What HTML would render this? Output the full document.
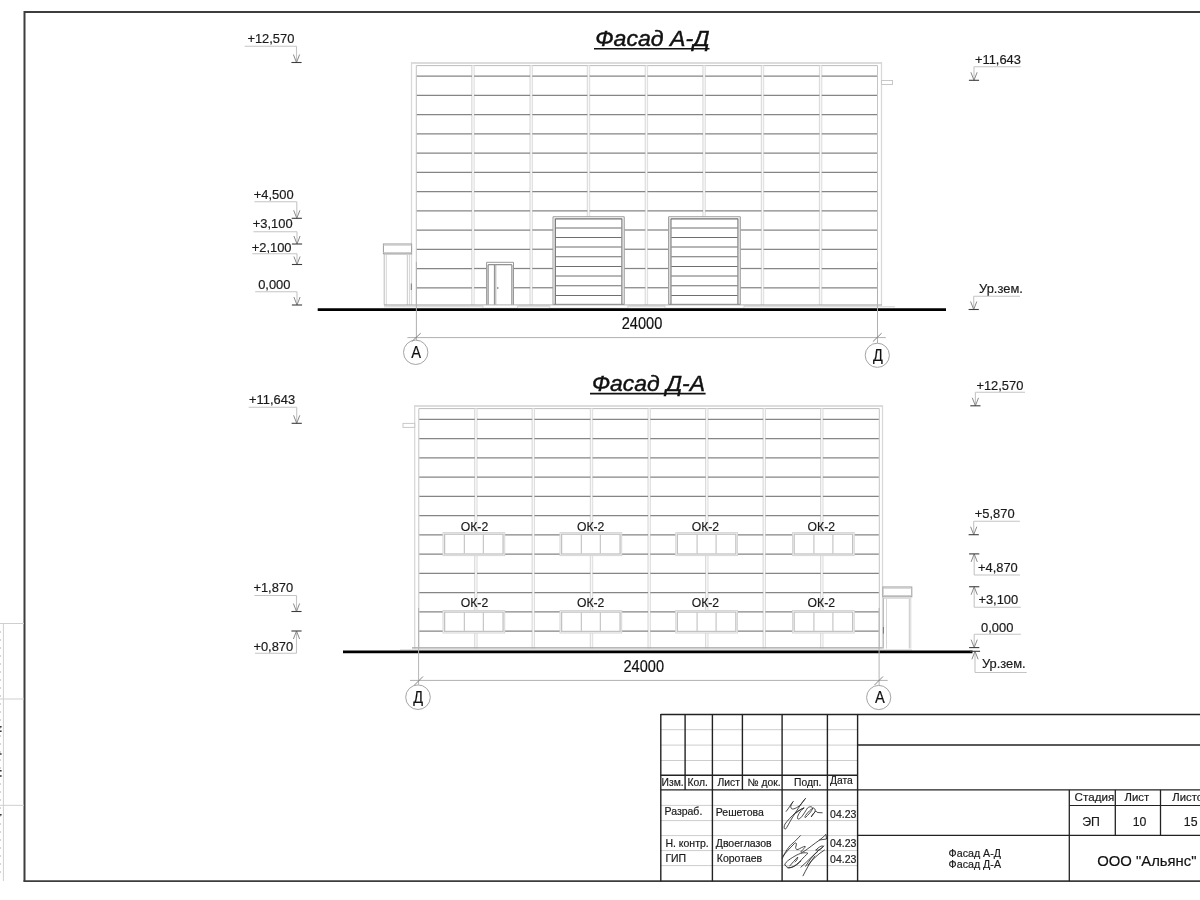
<!DOCTYPE html><html><head><meta charset="utf-8"><style>html,body{margin:0;padding:0;background:#fff;width:1200px;height:900px;overflow:hidden}svg{display:block;font-family:"Liberation Sans",sans-serif;will-change:transform}</style></head><body>
<svg width="1200" height="900" viewBox="0 0 1200 900">
<rect x="0" y="0" width="1200" height="900" fill="#fff"/>
<line x1="24.5" y1="12" x2="1200" y2="12" stroke="#3d3d3d" stroke-width="2"/>
<line x1="24.5" y1="11" x2="24.5" y2="881.5" stroke="#3d3d3d" stroke-width="2"/>
<line x1="23.5" y1="881.2" x2="1200" y2="881.2" stroke="#3d3d3d" stroke-width="1.8"/>
<line x1="0" y1="623.5" x2="24" y2="623.5" stroke="#cfcfcf" stroke-width="1"/>
<line x1="0" y1="699" x2="24" y2="699" stroke="#cfcfcf" stroke-width="1"/>
<line x1="0" y1="805.3" x2="24" y2="805.3" stroke="#cfcfcf" stroke-width="1"/>
<line x1="3.4" y1="623.5" x2="3.4" y2="881" stroke="#cfcfcf" stroke-width="1"/>
<line x1="0" y1="632" x2="1" y2="632" stroke="#aaa" stroke-width="1"/>
<line x1="0" y1="640" x2="1" y2="640" stroke="#aaa" stroke-width="1"/>
<line x1="0" y1="648" x2="1" y2="648" stroke="#aaa" stroke-width="1"/>
<line x1="0" y1="656" x2="1" y2="656" stroke="#aaa" stroke-width="1"/>
<line x1="0" y1="664" x2="1" y2="664" stroke="#aaa" stroke-width="1"/>
<line x1="0" y1="672" x2="1" y2="672" stroke="#aaa" stroke-width="1"/>
<line x1="0" y1="680" x2="1" y2="680" stroke="#aaa" stroke-width="1"/>
<line x1="0" y1="688" x2="1" y2="688" stroke="#aaa" stroke-width="1"/>
<line x1="0" y1="696" x2="1" y2="696" stroke="#aaa" stroke-width="1"/>
<line x1="0" y1="704" x2="1" y2="704" stroke="#aaa" stroke-width="1"/>
<line x1="0" y1="712" x2="1" y2="712" stroke="#aaa" stroke-width="1"/>
<line x1="0" y1="720" x2="1" y2="720" stroke="#aaa" stroke-width="1"/>
<line x1="0" y1="728" x2="1" y2="728" stroke="#aaa" stroke-width="1"/>
<line x1="0" y1="736" x2="1" y2="736" stroke="#aaa" stroke-width="1"/>
<line x1="0" y1="744" x2="1" y2="744" stroke="#aaa" stroke-width="1"/>
<line x1="0" y1="752" x2="1" y2="752" stroke="#aaa" stroke-width="1"/>
<line x1="0" y1="760" x2="1" y2="760" stroke="#aaa" stroke-width="1"/>
<line x1="0" y1="768" x2="1" y2="768" stroke="#aaa" stroke-width="1"/>
<line x1="0" y1="776" x2="1" y2="776" stroke="#aaa" stroke-width="1"/>
<line x1="0" y1="784" x2="1" y2="784" stroke="#aaa" stroke-width="1"/>
<line x1="0" y1="792" x2="1" y2="792" stroke="#aaa" stroke-width="1"/>
<line x1="0" y1="800" x2="1" y2="800" stroke="#aaa" stroke-width="1"/>
<line x1="0" y1="808" x2="1" y2="808" stroke="#aaa" stroke-width="1"/>
<line x1="0" y1="816" x2="1" y2="816" stroke="#aaa" stroke-width="1"/>
<line x1="0" y1="824" x2="1" y2="824" stroke="#aaa" stroke-width="1"/>
<line x1="0" y1="832" x2="1" y2="832" stroke="#aaa" stroke-width="1"/>
<line x1="0" y1="840" x2="1" y2="840" stroke="#aaa" stroke-width="1"/>
<line x1="0" y1="848" x2="1" y2="848" stroke="#aaa" stroke-width="1"/>
<line x1="0" y1="856" x2="1" y2="856" stroke="#aaa" stroke-width="1"/>
<line x1="0" y1="864" x2="1" y2="864" stroke="#aaa" stroke-width="1"/>
<line x1="0" y1="872" x2="1" y2="872" stroke="#aaa" stroke-width="1"/>
<line x1="0" y1="726.7" x2="1.6" y2="726.7" stroke="#333" stroke-width="1.6"/>
<line x1="0" y1="731.3" x2="1.6" y2="731.3" stroke="#333" stroke-width="1.6"/>
<line x1="0" y1="754" x2="1.6" y2="754" stroke="#333" stroke-width="1.6"/>
<line x1="0" y1="770.7" x2="1.6" y2="770.7" stroke="#333" stroke-width="1.6"/>
<line x1="0" y1="776" x2="1.6" y2="776" stroke="#333" stroke-width="1.6"/>
<line x1="0" y1="814.7" x2="1.6" y2="814.7" stroke="#333" stroke-width="1.6"/>
<text x="595.2" y="45.7" font-size="22" text-anchor="start" fill="#111" font-style="italic" stroke="#111" stroke-width="0.45" textLength="114.3" lengthAdjust="spacingAndGlyphs">Фасад А-Д</text>
<line x1="594" y1="48.8" x2="709.5" y2="48.8" stroke="#111" stroke-width="1.6"/>
<line x1="411.5" y1="63" x2="881.5" y2="63" stroke="#dcdcdc" stroke-width="2"/>
<line x1="416.3" y1="65.6" x2="877.5" y2="65.6" stroke="#bdbdbd" stroke-width="1"/>
<line x1="411.5" y1="62" x2="411.5" y2="305" stroke="#d9d9d9" stroke-width="1.3"/>
<line x1="881.5" y1="62" x2="881.5" y2="305" stroke="#d9d9d9" stroke-width="1.3"/>
<line x1="416.3" y1="65.6" x2="416.3" y2="305" stroke="#c4c4c4" stroke-width="1"/>
<line x1="877.5" y1="65.6" x2="877.5" y2="305" stroke="#c4c4c4" stroke-width="1"/>
<rect x="471.8" y="65.6" width="2.4" height="239.4" fill="#f8f8f8"/>
<line x1="471.8" y1="65.6" x2="471.8" y2="305" stroke="#d2d2d2" stroke-width="0.9"/>
<line x1="474.2" y1="65.6" x2="474.2" y2="305" stroke="#dadada" stroke-width="0.9"/>
<rect x="530" y="65.6" width="2.4" height="239.4" fill="#f8f8f8"/>
<line x1="530" y1="65.6" x2="530" y2="305" stroke="#d2d2d2" stroke-width="0.9"/>
<line x1="532.4" y1="65.6" x2="532.4" y2="305" stroke="#dadada" stroke-width="0.9"/>
<rect x="587.3" y="65.6" width="2.4" height="239.4" fill="#f8f8f8"/>
<line x1="587.3" y1="65.6" x2="587.3" y2="305" stroke="#d2d2d2" stroke-width="0.9"/>
<line x1="589.7" y1="65.6" x2="589.7" y2="305" stroke="#dadada" stroke-width="0.9"/>
<rect x="645.2" y="65.6" width="2.4" height="239.4" fill="#f8f8f8"/>
<line x1="645.2" y1="65.6" x2="645.2" y2="305" stroke="#d2d2d2" stroke-width="0.9"/>
<line x1="647.6" y1="65.6" x2="647.6" y2="305" stroke="#dadada" stroke-width="0.9"/>
<rect x="702.9" y="65.6" width="2.4" height="239.4" fill="#f8f8f8"/>
<line x1="702.9" y1="65.6" x2="702.9" y2="305" stroke="#d2d2d2" stroke-width="0.9"/>
<line x1="705.3" y1="65.6" x2="705.3" y2="305" stroke="#dadada" stroke-width="0.9"/>
<rect x="761.3" y="65.6" width="2.4" height="239.4" fill="#f8f8f8"/>
<line x1="761.3" y1="65.6" x2="761.3" y2="305" stroke="#d2d2d2" stroke-width="0.9"/>
<line x1="763.7" y1="65.6" x2="763.7" y2="305" stroke="#dadada" stroke-width="0.9"/>
<rect x="819.4" y="65.6" width="2.4" height="239.4" fill="#f8f8f8"/>
<line x1="819.4" y1="65.6" x2="819.4" y2="305" stroke="#d2d2d2" stroke-width="0.9"/>
<line x1="821.8" y1="65.6" x2="821.8" y2="305" stroke="#dadada" stroke-width="0.9"/>
<line x1="416.8" y1="76" x2="471.9" y2="76" stroke="#858585" stroke-width="1.25"/>
<line x1="474.1" y1="76" x2="530.1" y2="76" stroke="#858585" stroke-width="1.25"/>
<line x1="532.3" y1="76" x2="587.4" y2="76" stroke="#858585" stroke-width="1.25"/>
<line x1="589.6" y1="76" x2="645.3" y2="76" stroke="#858585" stroke-width="1.25"/>
<line x1="647.5" y1="76" x2="703" y2="76" stroke="#858585" stroke-width="1.25"/>
<line x1="705.2" y1="76" x2="761.4" y2="76" stroke="#858585" stroke-width="1.25"/>
<line x1="763.6" y1="76" x2="819.5" y2="76" stroke="#858585" stroke-width="1.25"/>
<line x1="821.7" y1="76" x2="877" y2="76" stroke="#858585" stroke-width="1.25"/>
<line x1="416.8" y1="95.25" x2="471.9" y2="95.25" stroke="#858585" stroke-width="1.25"/>
<line x1="474.1" y1="95.25" x2="530.1" y2="95.25" stroke="#858585" stroke-width="1.25"/>
<line x1="532.3" y1="95.25" x2="587.4" y2="95.25" stroke="#858585" stroke-width="1.25"/>
<line x1="589.6" y1="95.25" x2="645.3" y2="95.25" stroke="#858585" stroke-width="1.25"/>
<line x1="647.5" y1="95.25" x2="703" y2="95.25" stroke="#858585" stroke-width="1.25"/>
<line x1="705.2" y1="95.25" x2="761.4" y2="95.25" stroke="#858585" stroke-width="1.25"/>
<line x1="763.6" y1="95.25" x2="819.5" y2="95.25" stroke="#858585" stroke-width="1.25"/>
<line x1="821.7" y1="95.25" x2="877" y2="95.25" stroke="#858585" stroke-width="1.25"/>
<line x1="416.8" y1="114.5" x2="471.9" y2="114.5" stroke="#858585" stroke-width="1.25"/>
<line x1="474.1" y1="114.5" x2="530.1" y2="114.5" stroke="#858585" stroke-width="1.25"/>
<line x1="532.3" y1="114.5" x2="587.4" y2="114.5" stroke="#858585" stroke-width="1.25"/>
<line x1="589.6" y1="114.5" x2="645.3" y2="114.5" stroke="#858585" stroke-width="1.25"/>
<line x1="647.5" y1="114.5" x2="703" y2="114.5" stroke="#858585" stroke-width="1.25"/>
<line x1="705.2" y1="114.5" x2="761.4" y2="114.5" stroke="#858585" stroke-width="1.25"/>
<line x1="763.6" y1="114.5" x2="819.5" y2="114.5" stroke="#858585" stroke-width="1.25"/>
<line x1="821.7" y1="114.5" x2="877" y2="114.5" stroke="#858585" stroke-width="1.25"/>
<line x1="416.8" y1="133.75" x2="471.9" y2="133.75" stroke="#858585" stroke-width="1.25"/>
<line x1="474.1" y1="133.75" x2="530.1" y2="133.75" stroke="#858585" stroke-width="1.25"/>
<line x1="532.3" y1="133.75" x2="587.4" y2="133.75" stroke="#858585" stroke-width="1.25"/>
<line x1="589.6" y1="133.75" x2="645.3" y2="133.75" stroke="#858585" stroke-width="1.25"/>
<line x1="647.5" y1="133.75" x2="703" y2="133.75" stroke="#858585" stroke-width="1.25"/>
<line x1="705.2" y1="133.75" x2="761.4" y2="133.75" stroke="#858585" stroke-width="1.25"/>
<line x1="763.6" y1="133.75" x2="819.5" y2="133.75" stroke="#858585" stroke-width="1.25"/>
<line x1="821.7" y1="133.75" x2="877" y2="133.75" stroke="#858585" stroke-width="1.25"/>
<line x1="416.8" y1="153" x2="471.9" y2="153" stroke="#858585" stroke-width="1.25"/>
<line x1="474.1" y1="153" x2="530.1" y2="153" stroke="#858585" stroke-width="1.25"/>
<line x1="532.3" y1="153" x2="587.4" y2="153" stroke="#858585" stroke-width="1.25"/>
<line x1="589.6" y1="153" x2="645.3" y2="153" stroke="#858585" stroke-width="1.25"/>
<line x1="647.5" y1="153" x2="703" y2="153" stroke="#858585" stroke-width="1.25"/>
<line x1="705.2" y1="153" x2="761.4" y2="153" stroke="#858585" stroke-width="1.25"/>
<line x1="763.6" y1="153" x2="819.5" y2="153" stroke="#858585" stroke-width="1.25"/>
<line x1="821.7" y1="153" x2="877" y2="153" stroke="#858585" stroke-width="1.25"/>
<line x1="416.8" y1="172.25" x2="471.9" y2="172.25" stroke="#858585" stroke-width="1.25"/>
<line x1="474.1" y1="172.25" x2="530.1" y2="172.25" stroke="#858585" stroke-width="1.25"/>
<line x1="532.3" y1="172.25" x2="587.4" y2="172.25" stroke="#858585" stroke-width="1.25"/>
<line x1="589.6" y1="172.25" x2="645.3" y2="172.25" stroke="#858585" stroke-width="1.25"/>
<line x1="647.5" y1="172.25" x2="703" y2="172.25" stroke="#858585" stroke-width="1.25"/>
<line x1="705.2" y1="172.25" x2="761.4" y2="172.25" stroke="#858585" stroke-width="1.25"/>
<line x1="763.6" y1="172.25" x2="819.5" y2="172.25" stroke="#858585" stroke-width="1.25"/>
<line x1="821.7" y1="172.25" x2="877" y2="172.25" stroke="#858585" stroke-width="1.25"/>
<line x1="416.8" y1="191.5" x2="471.9" y2="191.5" stroke="#858585" stroke-width="1.25"/>
<line x1="474.1" y1="191.5" x2="530.1" y2="191.5" stroke="#858585" stroke-width="1.25"/>
<line x1="532.3" y1="191.5" x2="587.4" y2="191.5" stroke="#858585" stroke-width="1.25"/>
<line x1="589.6" y1="191.5" x2="645.3" y2="191.5" stroke="#858585" stroke-width="1.25"/>
<line x1="647.5" y1="191.5" x2="703" y2="191.5" stroke="#858585" stroke-width="1.25"/>
<line x1="705.2" y1="191.5" x2="761.4" y2="191.5" stroke="#858585" stroke-width="1.25"/>
<line x1="763.6" y1="191.5" x2="819.5" y2="191.5" stroke="#858585" stroke-width="1.25"/>
<line x1="821.7" y1="191.5" x2="877" y2="191.5" stroke="#858585" stroke-width="1.25"/>
<line x1="416.8" y1="210.75" x2="471.9" y2="210.75" stroke="#858585" stroke-width="1.25"/>
<line x1="474.1" y1="210.75" x2="530.1" y2="210.75" stroke="#858585" stroke-width="1.25"/>
<line x1="532.3" y1="210.75" x2="587.4" y2="210.75" stroke="#858585" stroke-width="1.25"/>
<line x1="589.6" y1="210.75" x2="645.3" y2="210.75" stroke="#858585" stroke-width="1.25"/>
<line x1="647.5" y1="210.75" x2="703" y2="210.75" stroke="#858585" stroke-width="1.25"/>
<line x1="705.2" y1="210.75" x2="761.4" y2="210.75" stroke="#858585" stroke-width="1.25"/>
<line x1="763.6" y1="210.75" x2="819.5" y2="210.75" stroke="#858585" stroke-width="1.25"/>
<line x1="821.7" y1="210.75" x2="877" y2="210.75" stroke="#858585" stroke-width="1.25"/>
<line x1="416.8" y1="230" x2="471.9" y2="230" stroke="#858585" stroke-width="1.25"/>
<line x1="474.1" y1="230" x2="530.1" y2="230" stroke="#858585" stroke-width="1.25"/>
<line x1="532.3" y1="230" x2="553" y2="230" stroke="#858585" stroke-width="1.25"/>
<line x1="624.25" y1="230" x2="645.3" y2="230" stroke="#858585" stroke-width="1.25"/>
<line x1="647.5" y1="230" x2="668.6" y2="230" stroke="#858585" stroke-width="1.25"/>
<line x1="740.3" y1="230" x2="761.4" y2="230" stroke="#858585" stroke-width="1.25"/>
<line x1="763.6" y1="230" x2="819.5" y2="230" stroke="#858585" stroke-width="1.25"/>
<line x1="821.7" y1="230" x2="877" y2="230" stroke="#858585" stroke-width="1.25"/>
<line x1="416.8" y1="249.25" x2="471.9" y2="249.25" stroke="#858585" stroke-width="1.25"/>
<line x1="474.1" y1="249.25" x2="530.1" y2="249.25" stroke="#858585" stroke-width="1.25"/>
<line x1="532.3" y1="249.25" x2="553" y2="249.25" stroke="#858585" stroke-width="1.25"/>
<line x1="624.25" y1="249.25" x2="645.3" y2="249.25" stroke="#858585" stroke-width="1.25"/>
<line x1="647.5" y1="249.25" x2="668.6" y2="249.25" stroke="#858585" stroke-width="1.25"/>
<line x1="740.3" y1="249.25" x2="761.4" y2="249.25" stroke="#858585" stroke-width="1.25"/>
<line x1="763.6" y1="249.25" x2="819.5" y2="249.25" stroke="#858585" stroke-width="1.25"/>
<line x1="821.7" y1="249.25" x2="877" y2="249.25" stroke="#858585" stroke-width="1.25"/>
<line x1="416.8" y1="268.5" x2="471.9" y2="268.5" stroke="#858585" stroke-width="1.25"/>
<line x1="474.1" y1="268.5" x2="486.6" y2="268.5" stroke="#858585" stroke-width="1.25"/>
<line x1="513.5" y1="268.5" x2="530.1" y2="268.5" stroke="#858585" stroke-width="1.25"/>
<line x1="532.3" y1="268.5" x2="553" y2="268.5" stroke="#858585" stroke-width="1.25"/>
<line x1="624.25" y1="268.5" x2="645.3" y2="268.5" stroke="#858585" stroke-width="1.25"/>
<line x1="647.5" y1="268.5" x2="668.6" y2="268.5" stroke="#858585" stroke-width="1.25"/>
<line x1="740.3" y1="268.5" x2="761.4" y2="268.5" stroke="#858585" stroke-width="1.25"/>
<line x1="763.6" y1="268.5" x2="819.5" y2="268.5" stroke="#858585" stroke-width="1.25"/>
<line x1="821.7" y1="268.5" x2="877" y2="268.5" stroke="#858585" stroke-width="1.25"/>
<line x1="416.8" y1="287.75" x2="471.9" y2="287.75" stroke="#858585" stroke-width="1.25"/>
<line x1="474.1" y1="287.75" x2="486.6" y2="287.75" stroke="#858585" stroke-width="1.25"/>
<line x1="513.5" y1="287.75" x2="530.1" y2="287.75" stroke="#858585" stroke-width="1.25"/>
<line x1="532.3" y1="287.75" x2="553" y2="287.75" stroke="#858585" stroke-width="1.25"/>
<line x1="624.25" y1="287.75" x2="645.3" y2="287.75" stroke="#858585" stroke-width="1.25"/>
<line x1="647.5" y1="287.75" x2="668.6" y2="287.75" stroke="#858585" stroke-width="1.25"/>
<line x1="740.3" y1="287.75" x2="761.4" y2="287.75" stroke="#858585" stroke-width="1.25"/>
<line x1="763.6" y1="287.75" x2="819.5" y2="287.75" stroke="#858585" stroke-width="1.25"/>
<line x1="821.7" y1="287.75" x2="877" y2="287.75" stroke="#858585" stroke-width="1.25"/>
<rect x="881.5" y="80.5" width="11" height="4" stroke="#c8c8c8" stroke-width="1" fill="#fff"/>
<rect x="553" y="216.75" width="71.25" height="88.5" fill="#fff"/>
<line x1="553" y1="216.75" x2="624.25" y2="216.75" stroke="#9a9a9a" stroke-width="1"/>
<line x1="553" y1="216.75" x2="553" y2="305" stroke="#9a9a9a" stroke-width="1"/>
<line x1="624.25" y1="216.75" x2="624.25" y2="305" stroke="#9a9a9a" stroke-width="1"/>
<line x1="555.3" y1="218.8" x2="621.95" y2="218.8" stroke="#707070" stroke-width="1.2"/>
<line x1="555.3" y1="218.8" x2="555.3" y2="305" stroke="#707070" stroke-width="1.2"/>
<line x1="621.95" y1="218.8" x2="621.95" y2="305" stroke="#707070" stroke-width="1.2"/>
<line x1="554.2" y1="218" x2="554.2" y2="305" stroke="#d0d0d0" stroke-width="1"/>
<line x1="623.05" y1="218" x2="623.05" y2="305" stroke="#d0d0d0" stroke-width="1"/>
<line x1="555.8" y1="228" x2="621.45" y2="228" stroke="#6e6e6e" stroke-width="1.1"/>
<line x1="555.8" y1="237.5" x2="621.45" y2="237.5" stroke="#6e6e6e" stroke-width="1.1"/>
<line x1="555.8" y1="247" x2="621.45" y2="247" stroke="#6e6e6e" stroke-width="1.1"/>
<line x1="555.8" y1="256.75" x2="621.45" y2="256.75" stroke="#6e6e6e" stroke-width="1.1"/>
<line x1="555.8" y1="266.5" x2="621.45" y2="266.5" stroke="#6e6e6e" stroke-width="1.1"/>
<line x1="555.8" y1="276" x2="621.45" y2="276" stroke="#6e6e6e" stroke-width="1.1"/>
<line x1="555.8" y1="285.75" x2="621.45" y2="285.75" stroke="#6e6e6e" stroke-width="1.1"/>
<line x1="555.8" y1="295.5" x2="621.45" y2="295.5" stroke="#6e6e6e" stroke-width="1.1"/>
<rect x="668.6" y="216.75" width="71.7" height="88.5" fill="#fff"/>
<line x1="668.6" y1="216.75" x2="740.3" y2="216.75" stroke="#9a9a9a" stroke-width="1"/>
<line x1="668.6" y1="216.75" x2="668.6" y2="305" stroke="#9a9a9a" stroke-width="1"/>
<line x1="740.3" y1="216.75" x2="740.3" y2="305" stroke="#9a9a9a" stroke-width="1"/>
<line x1="670.9" y1="218.8" x2="738" y2="218.8" stroke="#707070" stroke-width="1.2"/>
<line x1="670.9" y1="218.8" x2="670.9" y2="305" stroke="#707070" stroke-width="1.2"/>
<line x1="738" y1="218.8" x2="738" y2="305" stroke="#707070" stroke-width="1.2"/>
<line x1="669.8" y1="218" x2="669.8" y2="305" stroke="#d0d0d0" stroke-width="1"/>
<line x1="739.1" y1="218" x2="739.1" y2="305" stroke="#d0d0d0" stroke-width="1"/>
<line x1="671.4" y1="228" x2="737.5" y2="228" stroke="#6e6e6e" stroke-width="1.1"/>
<line x1="671.4" y1="237.5" x2="737.5" y2="237.5" stroke="#6e6e6e" stroke-width="1.1"/>
<line x1="671.4" y1="247" x2="737.5" y2="247" stroke="#6e6e6e" stroke-width="1.1"/>
<line x1="671.4" y1="256.75" x2="737.5" y2="256.75" stroke="#6e6e6e" stroke-width="1.1"/>
<line x1="671.4" y1="266.5" x2="737.5" y2="266.5" stroke="#6e6e6e" stroke-width="1.1"/>
<line x1="671.4" y1="276" x2="737.5" y2="276" stroke="#6e6e6e" stroke-width="1.1"/>
<line x1="671.4" y1="285.75" x2="737.5" y2="285.75" stroke="#6e6e6e" stroke-width="1.1"/>
<line x1="671.4" y1="295.5" x2="737.5" y2="295.5" stroke="#6e6e6e" stroke-width="1.1"/>
<line x1="486.6" y1="262.3" x2="513.5" y2="262.3" stroke="#999" stroke-width="1"/>
<line x1="486.6" y1="262.3" x2="486.6" y2="305" stroke="#999" stroke-width="1"/>
<line x1="513.5" y1="262.3" x2="513.5" y2="305" stroke="#999" stroke-width="1"/>
<line x1="488.1" y1="264.7" x2="511.9" y2="264.7" stroke="#808080" stroke-width="1.1"/>
<line x1="488.1" y1="264.7" x2="488.1" y2="305" stroke="#808080" stroke-width="1.1"/>
<line x1="511.9" y1="264.7" x2="511.9" y2="305" stroke="#808080" stroke-width="1.1"/>
<line x1="494.4" y1="264.7" x2="494.4" y2="305" stroke="#8a8a8a" stroke-width="1"/>
<line x1="495.8" y1="264.7" x2="495.8" y2="305" stroke="#aaa" stroke-width="1"/>
<polygon points="497,286.8 499.3,288 497,289.2" fill="#999"/>
<rect x="383.4" y="244" width="28.2" height="9.8" stroke="#9a9a9a" stroke-width="1" fill="#fff"/>
<line x1="383.4" y1="245.2" x2="411.6" y2="245.2" stroke="#c8c8c8" stroke-width="1"/>
<line x1="383.4" y1="252.6" x2="411.6" y2="252.6" stroke="#c8c8c8" stroke-width="1"/>
<line x1="384" y1="254.5" x2="411.3" y2="254.5" stroke="#d0d0d0" stroke-width="1"/>
<line x1="384.2" y1="253.8" x2="384.2" y2="305" stroke="#bdbdbd" stroke-width="1"/>
<line x1="386.3" y1="255" x2="386.3" y2="305" stroke="#d6d6d6" stroke-width="1"/>
<line x1="407.3" y1="255" x2="407.3" y2="305" stroke="#c6c6c6" stroke-width="1"/>
<line x1="409.4" y1="255" x2="409.4" y2="305" stroke="#d6d6d6" stroke-width="1"/>
<line x1="411.3" y1="283.5" x2="411.3" y2="290" stroke="#777" stroke-width="1"/>
<line x1="384" y1="305" x2="882" y2="305" stroke="#9a9a9a" stroke-width="1"/>
<line x1="384" y1="306.8" x2="895" y2="306.8" stroke="#d2d2d2" stroke-width="1"/>
<rect x="549.8" y="305.2" width="78.1" height="3" fill="#fff" stroke="#d4d4d4" stroke-width="0.9"/>
<rect x="665" y="305.2" width="79" height="3" fill="#fff" stroke="#d4d4d4" stroke-width="0.9"/>
<rect x="483" y="305.2" width="34.5" height="3" fill="#fff" stroke="#d4d4d4" stroke-width="0.9"/>
<line x1="553.5" y1="304.3" x2="624" y2="304.3" stroke="#8a8a8a" stroke-width="1"/>
<line x1="669" y1="304.3" x2="740" y2="304.3" stroke="#8a8a8a" stroke-width="1"/>
<line x1="317.7" y1="309.6" x2="946" y2="309.6" stroke="#000" stroke-width="2.7"/>
<line x1="416.4" y1="262" x2="416.4" y2="340.2" stroke="#b0b0b0" stroke-width="1"/>
<line x1="877.5" y1="262" x2="877.5" y2="343.2" stroke="#b0b0b0" stroke-width="1"/>
<line x1="407.4" y1="337.6" x2="885.8" y2="337.6" stroke="#b0b0b0" stroke-width="1"/>
<line x1="411.7" y1="341.6" x2="420.7" y2="333.2" stroke="#777" stroke-width="0.9"/>
<line x1="872.9" y1="341.6" x2="881.6" y2="333.2" stroke="#777" stroke-width="0.9"/>
<text x="621.7" y="328.7" font-size="15.8" text-anchor="start" fill="#111" textLength="40.6" lengthAdjust="spacingAndGlyphs" stroke="#111" stroke-width="0.18">24000</text>
<circle cx="415.7" cy="352.3" r="12.2" fill="none" stroke="#9a9a9a" stroke-width="0.9"/>
<circle cx="877.3" cy="355.3" r="12.1" fill="none" stroke="#9a9a9a" stroke-width="0.9"/>
<text x="416.1" y="357.6" font-size="16.3" text-anchor="middle" fill="#111" textLength="9.8" lengthAdjust="spacingAndGlyphs" stroke="#111" stroke-width="0.18">А</text>
<text x="877.8" y="361.2" font-size="15.8" text-anchor="middle" fill="#111" textLength="9.8" lengthAdjust="spacingAndGlyphs" stroke="#111" stroke-width="0.18">Д</text>
<text x="247.4" y="43" font-size="12.9" text-anchor="start" fill="#1a1a1a" stroke="#1a1a1a" stroke-width="0.18">+12,570</text>
<line x1="244.7" y1="46.2" x2="296.5" y2="46.2" stroke="#c4c4c4" stroke-width="1.1"/>
<line x1="296.5" y1="46.2" x2="296.5" y2="62.5" stroke="#c4c4c4" stroke-width="1.1"/>
<polyline points="293.4,54.5 296.5,62.5 299.6,54.5" fill="none" stroke="#8a8a8a" stroke-width="1"/>
<line x1="291.4" y1="62.5" x2="301.6" y2="62.5" stroke="#3c3c3c" stroke-width="1.1"/>
<text x="253.8" y="198.5" font-size="12.9" text-anchor="start" fill="#1a1a1a" stroke="#1a1a1a" stroke-width="0.18">+4,500</text>
<line x1="254.4" y1="201.7" x2="296.8" y2="201.7" stroke="#c4c4c4" stroke-width="1.1"/>
<line x1="296.8" y1="201.7" x2="296.8" y2="218.3" stroke="#c4c4c4" stroke-width="1.1"/>
<polyline points="293.7,210.3 296.8,218.3 299.9,210.3" fill="none" stroke="#8a8a8a" stroke-width="1"/>
<line x1="291.7" y1="218.3" x2="301.9" y2="218.3" stroke="#3c3c3c" stroke-width="1.1"/>
<text x="252.8" y="228.4" font-size="12.9" text-anchor="start" fill="#1a1a1a" stroke="#1a1a1a" stroke-width="0.18">+3,100</text>
<line x1="253.4" y1="231.7" x2="297" y2="231.7" stroke="#c4c4c4" stroke-width="1.1"/>
<line x1="297" y1="231.7" x2="297" y2="244" stroke="#c4c4c4" stroke-width="1.1"/>
<polyline points="293.9,236 297,244 300.1,236" fill="none" stroke="#8a8a8a" stroke-width="1"/>
<line x1="291.9" y1="244" x2="302.1" y2="244" stroke="#3c3c3c" stroke-width="1.1"/>
<text x="251.7" y="251.5" font-size="12.9" text-anchor="start" fill="#1a1a1a" stroke="#1a1a1a" stroke-width="0.18">+2,100</text>
<line x1="252.3" y1="253.7" x2="297" y2="253.7" stroke="#c4c4c4" stroke-width="1.1"/>
<line x1="297" y1="253.7" x2="297" y2="264.5" stroke="#c4c4c4" stroke-width="1.1"/>
<polyline points="293.9,256.5 297,264.5 300.1,256.5" fill="none" stroke="#8a8a8a" stroke-width="1"/>
<line x1="291.9" y1="264.5" x2="302.1" y2="264.5" stroke="#3c3c3c" stroke-width="1.1"/>
<text x="258.2" y="288.6" font-size="12.9" text-anchor="start" fill="#1a1a1a" stroke="#1a1a1a" stroke-width="0.18">0,000</text>
<line x1="255.2" y1="291.7" x2="297" y2="291.7" stroke="#c4c4c4" stroke-width="1.1"/>
<line x1="297" y1="291.7" x2="297" y2="305" stroke="#c4c4c4" stroke-width="1.1"/>
<polyline points="293.9,297 297,305 300.1,297" fill="none" stroke="#8a8a8a" stroke-width="1"/>
<line x1="291.9" y1="305" x2="302.1" y2="305" stroke="#3c3c3c" stroke-width="1.1"/>
<text x="974.9" y="64" font-size="12.9" text-anchor="start" fill="#1a1a1a" stroke="#1a1a1a" stroke-width="0.18">+11,643</text>
<line x1="974" y1="66.7" x2="1020.7" y2="66.7" stroke="#c4c4c4" stroke-width="1.1"/>
<line x1="974" y1="66.7" x2="974" y2="80.3" stroke="#c4c4c4" stroke-width="1.1"/>
<polyline points="970.9,72.3 974,80.3 977.1,72.3" fill="none" stroke="#8a8a8a" stroke-width="1"/>
<line x1="968.9" y1="80.3" x2="979.1" y2="80.3" stroke="#3c3c3c" stroke-width="1.1"/>
<text x="979.1" y="293" font-size="12.9" text-anchor="start" fill="#1a1a1a" stroke="#1a1a1a" stroke-width="0.18">Ур.зем.</text>
<line x1="973.7" y1="296.2" x2="1020" y2="296.2" stroke="#c4c4c4" stroke-width="1.1"/>
<line x1="973.7" y1="296.2" x2="973.7" y2="309.5" stroke="#c4c4c4" stroke-width="1.1"/>
<polyline points="970.6,301.5 973.7,309.5 976.8,301.5" fill="none" stroke="#8a8a8a" stroke-width="1"/>
<line x1="968.6" y1="309.5" x2="978.8" y2="309.5" stroke="#3c3c3c" stroke-width="1.1"/>
<text x="591.9" y="390.6" font-size="22.3" text-anchor="start" fill="#111" font-style="italic" stroke="#111" stroke-width="0.45" textLength="113.1" lengthAdjust="spacingAndGlyphs">Фасад Д-А</text>
<line x1="590" y1="393.6" x2="705.6" y2="393.6" stroke="#111" stroke-width="1.6"/>
<line x1="414.7" y1="406.1" x2="882.5" y2="406.1" stroke="#dcdcdc" stroke-width="2"/>
<line x1="418.8" y1="408.6" x2="879.3" y2="408.6" stroke="#bdbdbd" stroke-width="1"/>
<line x1="414.7" y1="405.1" x2="414.7" y2="648.5" stroke="#d9d9d9" stroke-width="1.3"/>
<line x1="882.5" y1="405.1" x2="882.5" y2="648.5" stroke="#d9d9d9" stroke-width="1.3"/>
<line x1="418.8" y1="408.6" x2="418.8" y2="648.5" stroke="#c4c4c4" stroke-width="1"/>
<line x1="879.3" y1="408.6" x2="879.3" y2="648.5" stroke="#c4c4c4" stroke-width="1"/>
<rect x="474.7" y="408.6" width="2.4" height="239.9" fill="#f8f8f8"/>
<line x1="474.7" y1="408.6" x2="474.7" y2="648.5" stroke="#d2d2d2" stroke-width="0.9"/>
<line x1="477.1" y1="408.6" x2="477.1" y2="648.5" stroke="#dadada" stroke-width="0.9"/>
<rect x="532.1" y="408.6" width="2.4" height="239.9" fill="#f8f8f8"/>
<line x1="532.1" y1="408.6" x2="532.1" y2="648.5" stroke="#d2d2d2" stroke-width="0.9"/>
<line x1="534.5" y1="408.6" x2="534.5" y2="648.5" stroke="#dadada" stroke-width="0.9"/>
<rect x="590.3" y="408.6" width="2.4" height="239.9" fill="#f8f8f8"/>
<line x1="590.3" y1="408.6" x2="590.3" y2="648.5" stroke="#d2d2d2" stroke-width="0.9"/>
<line x1="592.7" y1="408.6" x2="592.7" y2="648.5" stroke="#dadada" stroke-width="0.9"/>
<rect x="648" y="408.6" width="2.4" height="239.9" fill="#f8f8f8"/>
<line x1="648" y1="408.6" x2="648" y2="648.5" stroke="#d2d2d2" stroke-width="0.9"/>
<line x1="650.4" y1="408.6" x2="650.4" y2="648.5" stroke="#dadada" stroke-width="0.9"/>
<rect x="705.6" y="408.6" width="2.4" height="239.9" fill="#f8f8f8"/>
<line x1="705.6" y1="408.6" x2="705.6" y2="648.5" stroke="#d2d2d2" stroke-width="0.9"/>
<line x1="708" y1="408.6" x2="708" y2="648.5" stroke="#dadada" stroke-width="0.9"/>
<rect x="763.1" y="408.6" width="2.4" height="239.9" fill="#f8f8f8"/>
<line x1="763.1" y1="408.6" x2="763.1" y2="648.5" stroke="#d2d2d2" stroke-width="0.9"/>
<line x1="765.5" y1="408.6" x2="765.5" y2="648.5" stroke="#dadada" stroke-width="0.9"/>
<rect x="820.6" y="408.6" width="2.4" height="239.9" fill="#f8f8f8"/>
<line x1="820.6" y1="408.6" x2="820.6" y2="648.5" stroke="#d2d2d2" stroke-width="0.9"/>
<line x1="823" y1="408.6" x2="823" y2="648.5" stroke="#dadada" stroke-width="0.9"/>
<line x1="419.3" y1="419.25" x2="474.8" y2="419.25" stroke="#858585" stroke-width="1.25"/>
<line x1="477" y1="419.25" x2="532.2" y2="419.25" stroke="#858585" stroke-width="1.25"/>
<line x1="534.4" y1="419.25" x2="590.4" y2="419.25" stroke="#858585" stroke-width="1.25"/>
<line x1="592.6" y1="419.25" x2="648.1" y2="419.25" stroke="#858585" stroke-width="1.25"/>
<line x1="650.3" y1="419.25" x2="705.7" y2="419.25" stroke="#858585" stroke-width="1.25"/>
<line x1="707.9" y1="419.25" x2="763.2" y2="419.25" stroke="#858585" stroke-width="1.25"/>
<line x1="765.4" y1="419.25" x2="820.7" y2="419.25" stroke="#858585" stroke-width="1.25"/>
<line x1="822.9" y1="419.25" x2="878.8" y2="419.25" stroke="#858585" stroke-width="1.25"/>
<line x1="419.3" y1="438.51" x2="474.8" y2="438.51" stroke="#858585" stroke-width="1.25"/>
<line x1="477" y1="438.51" x2="532.2" y2="438.51" stroke="#858585" stroke-width="1.25"/>
<line x1="534.4" y1="438.51" x2="590.4" y2="438.51" stroke="#858585" stroke-width="1.25"/>
<line x1="592.6" y1="438.51" x2="648.1" y2="438.51" stroke="#858585" stroke-width="1.25"/>
<line x1="650.3" y1="438.51" x2="705.7" y2="438.51" stroke="#858585" stroke-width="1.25"/>
<line x1="707.9" y1="438.51" x2="763.2" y2="438.51" stroke="#858585" stroke-width="1.25"/>
<line x1="765.4" y1="438.51" x2="820.7" y2="438.51" stroke="#858585" stroke-width="1.25"/>
<line x1="822.9" y1="438.51" x2="878.8" y2="438.51" stroke="#858585" stroke-width="1.25"/>
<line x1="419.3" y1="457.77" x2="474.8" y2="457.77" stroke="#858585" stroke-width="1.25"/>
<line x1="477" y1="457.77" x2="532.2" y2="457.77" stroke="#858585" stroke-width="1.25"/>
<line x1="534.4" y1="457.77" x2="590.4" y2="457.77" stroke="#858585" stroke-width="1.25"/>
<line x1="592.6" y1="457.77" x2="648.1" y2="457.77" stroke="#858585" stroke-width="1.25"/>
<line x1="650.3" y1="457.77" x2="705.7" y2="457.77" stroke="#858585" stroke-width="1.25"/>
<line x1="707.9" y1="457.77" x2="763.2" y2="457.77" stroke="#858585" stroke-width="1.25"/>
<line x1="765.4" y1="457.77" x2="820.7" y2="457.77" stroke="#858585" stroke-width="1.25"/>
<line x1="822.9" y1="457.77" x2="878.8" y2="457.77" stroke="#858585" stroke-width="1.25"/>
<line x1="419.3" y1="477.03" x2="474.8" y2="477.03" stroke="#858585" stroke-width="1.25"/>
<line x1="477" y1="477.03" x2="532.2" y2="477.03" stroke="#858585" stroke-width="1.25"/>
<line x1="534.4" y1="477.03" x2="590.4" y2="477.03" stroke="#858585" stroke-width="1.25"/>
<line x1="592.6" y1="477.03" x2="648.1" y2="477.03" stroke="#858585" stroke-width="1.25"/>
<line x1="650.3" y1="477.03" x2="705.7" y2="477.03" stroke="#858585" stroke-width="1.25"/>
<line x1="707.9" y1="477.03" x2="763.2" y2="477.03" stroke="#858585" stroke-width="1.25"/>
<line x1="765.4" y1="477.03" x2="820.7" y2="477.03" stroke="#858585" stroke-width="1.25"/>
<line x1="822.9" y1="477.03" x2="878.8" y2="477.03" stroke="#858585" stroke-width="1.25"/>
<line x1="419.3" y1="496.29" x2="474.8" y2="496.29" stroke="#858585" stroke-width="1.25"/>
<line x1="477" y1="496.29" x2="532.2" y2="496.29" stroke="#858585" stroke-width="1.25"/>
<line x1="534.4" y1="496.29" x2="590.4" y2="496.29" stroke="#858585" stroke-width="1.25"/>
<line x1="592.6" y1="496.29" x2="648.1" y2="496.29" stroke="#858585" stroke-width="1.25"/>
<line x1="650.3" y1="496.29" x2="705.7" y2="496.29" stroke="#858585" stroke-width="1.25"/>
<line x1="707.9" y1="496.29" x2="763.2" y2="496.29" stroke="#858585" stroke-width="1.25"/>
<line x1="765.4" y1="496.29" x2="820.7" y2="496.29" stroke="#858585" stroke-width="1.25"/>
<line x1="822.9" y1="496.29" x2="878.8" y2="496.29" stroke="#858585" stroke-width="1.25"/>
<line x1="419.3" y1="515.55" x2="474.8" y2="515.55" stroke="#858585" stroke-width="1.25"/>
<line x1="477" y1="515.55" x2="532.2" y2="515.55" stroke="#858585" stroke-width="1.25"/>
<line x1="534.4" y1="515.55" x2="590.4" y2="515.55" stroke="#858585" stroke-width="1.25"/>
<line x1="592.6" y1="515.55" x2="648.1" y2="515.55" stroke="#858585" stroke-width="1.25"/>
<line x1="650.3" y1="515.55" x2="705.7" y2="515.55" stroke="#858585" stroke-width="1.25"/>
<line x1="707.9" y1="515.55" x2="763.2" y2="515.55" stroke="#858585" stroke-width="1.25"/>
<line x1="765.4" y1="515.55" x2="820.7" y2="515.55" stroke="#858585" stroke-width="1.25"/>
<line x1="822.9" y1="515.55" x2="878.8" y2="515.55" stroke="#858585" stroke-width="1.25"/>
<line x1="419.3" y1="534.81" x2="474.8" y2="534.81" stroke="#858585" stroke-width="1.25"/>
<line x1="477" y1="534.81" x2="532.2" y2="534.81" stroke="#858585" stroke-width="1.25"/>
<line x1="534.4" y1="534.81" x2="590.4" y2="534.81" stroke="#858585" stroke-width="1.25"/>
<line x1="592.6" y1="534.81" x2="648.1" y2="534.81" stroke="#858585" stroke-width="1.25"/>
<line x1="650.3" y1="534.81" x2="705.7" y2="534.81" stroke="#858585" stroke-width="1.25"/>
<line x1="707.9" y1="534.81" x2="763.2" y2="534.81" stroke="#858585" stroke-width="1.25"/>
<line x1="765.4" y1="534.81" x2="820.7" y2="534.81" stroke="#858585" stroke-width="1.25"/>
<line x1="822.9" y1="534.81" x2="878.8" y2="534.81" stroke="#858585" stroke-width="1.25"/>
<line x1="419.3" y1="554.07" x2="474.8" y2="554.07" stroke="#858585" stroke-width="1.25"/>
<line x1="477" y1="554.07" x2="532.2" y2="554.07" stroke="#858585" stroke-width="1.25"/>
<line x1="534.4" y1="554.07" x2="590.4" y2="554.07" stroke="#858585" stroke-width="1.25"/>
<line x1="592.6" y1="554.07" x2="648.1" y2="554.07" stroke="#858585" stroke-width="1.25"/>
<line x1="650.3" y1="554.07" x2="705.7" y2="554.07" stroke="#858585" stroke-width="1.25"/>
<line x1="707.9" y1="554.07" x2="763.2" y2="554.07" stroke="#858585" stroke-width="1.25"/>
<line x1="765.4" y1="554.07" x2="820.7" y2="554.07" stroke="#858585" stroke-width="1.25"/>
<line x1="822.9" y1="554.07" x2="878.8" y2="554.07" stroke="#858585" stroke-width="1.25"/>
<line x1="419.3" y1="573.33" x2="474.8" y2="573.33" stroke="#858585" stroke-width="1.25"/>
<line x1="477" y1="573.33" x2="532.2" y2="573.33" stroke="#858585" stroke-width="1.25"/>
<line x1="534.4" y1="573.33" x2="590.4" y2="573.33" stroke="#858585" stroke-width="1.25"/>
<line x1="592.6" y1="573.33" x2="648.1" y2="573.33" stroke="#858585" stroke-width="1.25"/>
<line x1="650.3" y1="573.33" x2="705.7" y2="573.33" stroke="#858585" stroke-width="1.25"/>
<line x1="707.9" y1="573.33" x2="763.2" y2="573.33" stroke="#858585" stroke-width="1.25"/>
<line x1="765.4" y1="573.33" x2="820.7" y2="573.33" stroke="#858585" stroke-width="1.25"/>
<line x1="822.9" y1="573.33" x2="878.8" y2="573.33" stroke="#858585" stroke-width="1.25"/>
<line x1="419.3" y1="592.59" x2="474.8" y2="592.59" stroke="#858585" stroke-width="1.25"/>
<line x1="477" y1="592.59" x2="532.2" y2="592.59" stroke="#858585" stroke-width="1.25"/>
<line x1="534.4" y1="592.59" x2="590.4" y2="592.59" stroke="#858585" stroke-width="1.25"/>
<line x1="592.6" y1="592.59" x2="648.1" y2="592.59" stroke="#858585" stroke-width="1.25"/>
<line x1="650.3" y1="592.59" x2="705.7" y2="592.59" stroke="#858585" stroke-width="1.25"/>
<line x1="707.9" y1="592.59" x2="763.2" y2="592.59" stroke="#858585" stroke-width="1.25"/>
<line x1="765.4" y1="592.59" x2="820.7" y2="592.59" stroke="#858585" stroke-width="1.25"/>
<line x1="822.9" y1="592.59" x2="878.8" y2="592.59" stroke="#858585" stroke-width="1.25"/>
<line x1="419.3" y1="611.85" x2="474.8" y2="611.85" stroke="#858585" stroke-width="1.25"/>
<line x1="477" y1="611.85" x2="532.2" y2="611.85" stroke="#858585" stroke-width="1.25"/>
<line x1="534.4" y1="611.85" x2="590.4" y2="611.85" stroke="#858585" stroke-width="1.25"/>
<line x1="592.6" y1="611.85" x2="648.1" y2="611.85" stroke="#858585" stroke-width="1.25"/>
<line x1="650.3" y1="611.85" x2="705.7" y2="611.85" stroke="#858585" stroke-width="1.25"/>
<line x1="707.9" y1="611.85" x2="763.2" y2="611.85" stroke="#858585" stroke-width="1.25"/>
<line x1="765.4" y1="611.85" x2="820.7" y2="611.85" stroke="#858585" stroke-width="1.25"/>
<line x1="822.9" y1="611.85" x2="878.8" y2="611.85" stroke="#858585" stroke-width="1.25"/>
<line x1="419.3" y1="631.11" x2="474.8" y2="631.11" stroke="#858585" stroke-width="1.25"/>
<line x1="477" y1="631.11" x2="532.2" y2="631.11" stroke="#858585" stroke-width="1.25"/>
<line x1="534.4" y1="631.11" x2="590.4" y2="631.11" stroke="#858585" stroke-width="1.25"/>
<line x1="592.6" y1="631.11" x2="648.1" y2="631.11" stroke="#858585" stroke-width="1.25"/>
<line x1="650.3" y1="631.11" x2="705.7" y2="631.11" stroke="#858585" stroke-width="1.25"/>
<line x1="707.9" y1="631.11" x2="763.2" y2="631.11" stroke="#858585" stroke-width="1.25"/>
<line x1="765.4" y1="631.11" x2="820.7" y2="631.11" stroke="#858585" stroke-width="1.25"/>
<line x1="822.9" y1="631.11" x2="878.8" y2="631.11" stroke="#858585" stroke-width="1.25"/>
<rect x="403" y="423.4" width="11.7" height="4" stroke="#c8c8c8" stroke-width="1" fill="#fff"/>
<rect x="443" y="532.6" width="61.7" height="23" fill="#fff" stroke="#d6d6d6" stroke-width="1"/>
<rect x="444.6" y="534.2" width="58.5" height="19.8" fill="none" stroke="#c2c2c2" stroke-width="1.3"/>
<line x1="464.35" y1="534.6" x2="464.35" y2="553.6" stroke="#c6c6c6" stroke-width="1.2"/>
<line x1="483.35" y1="534.6" x2="483.35" y2="553.6" stroke="#c6c6c6" stroke-width="1.2"/>
<text x="474.5" y="530.6" font-size="12.2" text-anchor="middle" fill="#1a1a1a" stroke="#1a1a1a" stroke-width="0.18">ОК-2</text>
<rect x="443" y="610.5" width="61.7" height="22.5" fill="#fff" stroke="#d6d6d6" stroke-width="1"/>
<rect x="444.6" y="612.1" width="58.5" height="19.3" fill="none" stroke="#c2c2c2" stroke-width="1.3"/>
<line x1="464.35" y1="612.5" x2="464.35" y2="631" stroke="#c6c6c6" stroke-width="1.2"/>
<line x1="483.35" y1="612.5" x2="483.35" y2="631" stroke="#c6c6c6" stroke-width="1.2"/>
<text x="474.5" y="607.4" font-size="12.2" text-anchor="middle" fill="#1a1a1a" stroke="#1a1a1a" stroke-width="0.18">ОК-2</text>
<rect x="560" y="532.6" width="61.7" height="23" fill="#fff" stroke="#d6d6d6" stroke-width="1"/>
<rect x="561.6" y="534.2" width="58.5" height="19.8" fill="none" stroke="#c2c2c2" stroke-width="1.3"/>
<line x1="581.35" y1="534.6" x2="581.35" y2="553.6" stroke="#c6c6c6" stroke-width="1.2"/>
<line x1="600.35" y1="534.6" x2="600.35" y2="553.6" stroke="#c6c6c6" stroke-width="1.2"/>
<text x="590.7" y="530.6" font-size="12.2" text-anchor="middle" fill="#1a1a1a" stroke="#1a1a1a" stroke-width="0.18">ОК-2</text>
<rect x="560" y="610.5" width="61.7" height="22.5" fill="#fff" stroke="#d6d6d6" stroke-width="1"/>
<rect x="561.6" y="612.1" width="58.5" height="19.3" fill="none" stroke="#c2c2c2" stroke-width="1.3"/>
<line x1="581.35" y1="612.5" x2="581.35" y2="631" stroke="#c6c6c6" stroke-width="1.2"/>
<line x1="600.35" y1="612.5" x2="600.35" y2="631" stroke="#c6c6c6" stroke-width="1.2"/>
<text x="590.7" y="607.4" font-size="12.2" text-anchor="middle" fill="#1a1a1a" stroke="#1a1a1a" stroke-width="0.18">ОК-2</text>
<rect x="675.75" y="532.6" width="61.7" height="23" fill="#fff" stroke="#d6d6d6" stroke-width="1"/>
<rect x="677.35" y="534.2" width="58.5" height="19.8" fill="none" stroke="#c2c2c2" stroke-width="1.3"/>
<line x1="697.1" y1="534.6" x2="697.1" y2="553.6" stroke="#c6c6c6" stroke-width="1.2"/>
<line x1="716.1" y1="534.6" x2="716.1" y2="553.6" stroke="#c6c6c6" stroke-width="1.2"/>
<text x="705.4" y="530.6" font-size="12.2" text-anchor="middle" fill="#1a1a1a" stroke="#1a1a1a" stroke-width="0.18">ОК-2</text>
<rect x="675.75" y="610.5" width="61.7" height="22.5" fill="#fff" stroke="#d6d6d6" stroke-width="1"/>
<rect x="677.35" y="612.1" width="58.5" height="19.3" fill="none" stroke="#c2c2c2" stroke-width="1.3"/>
<line x1="697.1" y1="612.5" x2="697.1" y2="631" stroke="#c6c6c6" stroke-width="1.2"/>
<line x1="716.1" y1="612.5" x2="716.1" y2="631" stroke="#c6c6c6" stroke-width="1.2"/>
<text x="705.4" y="607.4" font-size="12.2" text-anchor="middle" fill="#1a1a1a" stroke="#1a1a1a" stroke-width="0.18">ОК-2</text>
<rect x="792.55" y="532.6" width="61.7" height="23" fill="#fff" stroke="#d6d6d6" stroke-width="1"/>
<rect x="794.15" y="534.2" width="58.5" height="19.8" fill="none" stroke="#c2c2c2" stroke-width="1.3"/>
<line x1="813.9" y1="534.6" x2="813.9" y2="553.6" stroke="#c6c6c6" stroke-width="1.2"/>
<line x1="832.9" y1="534.6" x2="832.9" y2="553.6" stroke="#c6c6c6" stroke-width="1.2"/>
<text x="821.3" y="530.6" font-size="12.2" text-anchor="middle" fill="#1a1a1a" stroke="#1a1a1a" stroke-width="0.18">ОК-2</text>
<rect x="792.55" y="610.5" width="61.7" height="22.5" fill="#fff" stroke="#d6d6d6" stroke-width="1"/>
<rect x="794.15" y="612.1" width="58.5" height="19.3" fill="none" stroke="#c2c2c2" stroke-width="1.3"/>
<line x1="813.9" y1="612.5" x2="813.9" y2="631" stroke="#c6c6c6" stroke-width="1.2"/>
<line x1="832.9" y1="612.5" x2="832.9" y2="631" stroke="#c6c6c6" stroke-width="1.2"/>
<text x="821.3" y="607.4" font-size="12.2" text-anchor="middle" fill="#1a1a1a" stroke="#1a1a1a" stroke-width="0.18">ОК-2</text>
<rect x="882.9" y="587" width="28.9" height="9.8" stroke="#9a9a9a" stroke-width="1" fill="#fff"/>
<line x1="882.9" y1="588.2" x2="911.8" y2="588.2" stroke="#c8c8c8" stroke-width="1"/>
<line x1="882.9" y1="595.6" x2="911.8" y2="595.6" stroke="#c8c8c8" stroke-width="1"/>
<line x1="883.3" y1="598.2" x2="910.8" y2="598.2" stroke="#d0d0d0" stroke-width="1"/>
<line x1="883.5" y1="598" x2="883.5" y2="648.5" stroke="#bdbdbd" stroke-width="1"/>
<line x1="886.5" y1="599" x2="886.5" y2="648.5" stroke="#d6d6d6" stroke-width="1"/>
<line x1="909.3" y1="599" x2="909.3" y2="648.5" stroke="#c6c6c6" stroke-width="1"/>
<line x1="910.8" y1="598" x2="910.8" y2="648.5" stroke="#d6d6d6" stroke-width="1"/>
<line x1="883.4" y1="627" x2="883.4" y2="633.6" stroke="#777" stroke-width="1"/>
<line x1="412" y1="647.8" x2="882.5" y2="647.8" stroke="#a0a0a0" stroke-width="1.2"/>
<line x1="400" y1="649.8" x2="912" y2="649.8" stroke="#d8d8d8" stroke-width="1"/>
<line x1="343" y1="651.8" x2="972.5" y2="651.8" stroke="#000" stroke-width="2.7"/>
<line x1="418.6" y1="608" x2="418.6" y2="684.5" stroke="#b4b4b4" stroke-width="1"/>
<line x1="879.1" y1="608" x2="879.1" y2="685" stroke="#b4b4b4" stroke-width="1"/>
<line x1="410" y1="680.4" x2="887.7" y2="680.4" stroke="#b0b0b0" stroke-width="1"/>
<line x1="414.5" y1="685" x2="423" y2="676.5" stroke="#777" stroke-width="0.9"/>
<line x1="874.5" y1="685" x2="883" y2="676.5" stroke="#777" stroke-width="0.9"/>
<text x="623.5" y="672.2" font-size="15.8" text-anchor="start" fill="#111" textLength="40.5" lengthAdjust="spacingAndGlyphs" stroke="#111" stroke-width="0.18">24000</text>
<circle cx="418" cy="697.2" r="12.3" fill="none" stroke="#9a9a9a" stroke-width="0.9"/>
<circle cx="878.7" cy="697.5" r="12.1" fill="none" stroke="#9a9a9a" stroke-width="0.9"/>
<text x="418.2" y="702.5" font-size="15.8" text-anchor="middle" fill="#111" textLength="9.8" lengthAdjust="spacingAndGlyphs" stroke="#111" stroke-width="0.18">Д</text>
<text x="879.8" y="702.8" font-size="16.3" text-anchor="middle" fill="#111" textLength="9.8" lengthAdjust="spacingAndGlyphs" stroke="#111" stroke-width="0.18">А</text>
<text x="249.1" y="404" font-size="12.9" text-anchor="start" fill="#1a1a1a" stroke="#1a1a1a" stroke-width="0.18">+11,643</text>
<line x1="248.7" y1="407.3" x2="296.7" y2="407.3" stroke="#c4c4c4" stroke-width="1.1"/>
<line x1="296.7" y1="407.3" x2="296.7" y2="423.3" stroke="#c4c4c4" stroke-width="1.1"/>
<polyline points="293.6,415.3 296.7,423.3 299.8,415.3" fill="none" stroke="#8a8a8a" stroke-width="1"/>
<line x1="291.6" y1="423.3" x2="301.8" y2="423.3" stroke="#3c3c3c" stroke-width="1.1"/>
<text x="253.4" y="592" font-size="12.9" text-anchor="start" fill="#1a1a1a" stroke="#1a1a1a" stroke-width="0.18">+1,870</text>
<line x1="254.5" y1="595.5" x2="296.5" y2="595.5" stroke="#c4c4c4" stroke-width="1.1"/>
<line x1="296.5" y1="595.5" x2="296.5" y2="611.5" stroke="#c4c4c4" stroke-width="1.1"/>
<polyline points="293.4,603.5 296.5,611.5 299.6,603.5" fill="none" stroke="#8a8a8a" stroke-width="1"/>
<line x1="291.4" y1="611.5" x2="301.6" y2="611.5" stroke="#3c3c3c" stroke-width="1.1"/>
<text x="253.4" y="650.5" font-size="12.9" text-anchor="start" fill="#1a1a1a" stroke="#1a1a1a" stroke-width="0.18">+0,870</text>
<line x1="255" y1="653.2" x2="296.5" y2="653.2" stroke="#c4c4c4" stroke-width="1.1"/>
<line x1="296.5" y1="631" x2="296.5" y2="653.2" stroke="#c4c4c4" stroke-width="1.1"/>
<polyline points="293.4,639 296.5,631 299.6,639" fill="none" stroke="#8a8a8a" stroke-width="1"/>
<line x1="291.4" y1="631" x2="301.6" y2="631" stroke="#3c3c3c" stroke-width="1.1"/>
<text x="976.4" y="389.6" font-size="12.9" text-anchor="start" fill="#1a1a1a" stroke="#1a1a1a" stroke-width="0.18">+12,570</text>
<line x1="975.4" y1="392.3" x2="1025" y2="392.3" stroke="#c4c4c4" stroke-width="1.1"/>
<line x1="975.4" y1="392.3" x2="975.4" y2="405.8" stroke="#c4c4c4" stroke-width="1.1"/>
<polyline points="972.3,397.8 975.4,405.8 978.5,397.8" fill="none" stroke="#8a8a8a" stroke-width="1"/>
<line x1="970.3" y1="405.8" x2="980.5" y2="405.8" stroke="#3c3c3c" stroke-width="1.1"/>
<text x="974.8" y="518.3" font-size="12.9" text-anchor="start" fill="#1a1a1a" stroke="#1a1a1a" stroke-width="0.18">+5,870</text>
<line x1="973.7" y1="521.3" x2="1019.9" y2="521.3" stroke="#c4c4c4" stroke-width="1.1"/>
<line x1="973.7" y1="521.3" x2="973.7" y2="534.7" stroke="#c4c4c4" stroke-width="1.1"/>
<polyline points="970.6,526.7 973.7,534.7 976.8,526.7" fill="none" stroke="#8a8a8a" stroke-width="1"/>
<line x1="968.6" y1="534.7" x2="978.8" y2="534.7" stroke="#3c3c3c" stroke-width="1.1"/>
<text x="978" y="571.5" font-size="12.9" text-anchor="start" fill="#1a1a1a" stroke="#1a1a1a" stroke-width="0.18">+4,870</text>
<line x1="974.2" y1="575" x2="1020" y2="575" stroke="#c4c4c4" stroke-width="1.1"/>
<line x1="974.2" y1="553.9" x2="974.2" y2="575" stroke="#c4c4c4" stroke-width="1.1"/>
<polyline points="971.1,561.9 974.2,553.9 977.3,561.9" fill="none" stroke="#8a8a8a" stroke-width="1"/>
<line x1="969.1" y1="553.9" x2="979.3" y2="553.9" stroke="#3c3c3c" stroke-width="1.1"/>
<text x="978.4" y="604" font-size="12.9" text-anchor="start" fill="#1a1a1a" stroke="#1a1a1a" stroke-width="0.18">+3,100</text>
<line x1="974.2" y1="607.2" x2="1020.8" y2="607.2" stroke="#c4c4c4" stroke-width="1.1"/>
<line x1="974.2" y1="586.75" x2="974.2" y2="607.2" stroke="#c4c4c4" stroke-width="1.1"/>
<polyline points="971.1,594.75 974.2,586.75 977.3,594.75" fill="none" stroke="#8a8a8a" stroke-width="1"/>
<line x1="969.1" y1="586.75" x2="979.3" y2="586.75" stroke="#3c3c3c" stroke-width="1.1"/>
<text x="981.1" y="631.9" font-size="12.9" text-anchor="start" fill="#1a1a1a" stroke="#1a1a1a" stroke-width="0.18">0,000</text>
<line x1="974.2" y1="634.2" x2="1020.8" y2="634.2" stroke="#c4c4c4" stroke-width="1.1"/>
<line x1="974.2" y1="634.2" x2="974.2" y2="647.6" stroke="#c4c4c4" stroke-width="1.1"/>
<polyline points="971.1,639.6 974.2,647.6 977.3,639.6" fill="none" stroke="#8a8a8a" stroke-width="1"/>
<line x1="969.1" y1="647.6" x2="979.3" y2="647.6" stroke="#3c3c3c" stroke-width="1.1"/>
<text x="981.9" y="668.3" font-size="12.9" text-anchor="start" fill="#1a1a1a" stroke="#1a1a1a" stroke-width="0.18">Ур.зем.</text>
<line x1="975" y1="672.5" x2="1026.7" y2="672.5" stroke="#c4c4c4" stroke-width="1.1"/>
<line x1="975" y1="651.3" x2="975" y2="672.5" stroke="#c4c4c4" stroke-width="1.1"/>
<polyline points="971.9,659.3 975,651.3 978.1,659.3" fill="none" stroke="#8a8a8a" stroke-width="1"/>
<line x1="969.9" y1="651.3" x2="980.1" y2="651.3" stroke="#3c3c3c" stroke-width="1.1"/>
<line x1="660.7" y1="729.7" x2="857.5" y2="729.7" stroke="#cdcdcd" stroke-width="1"/>
<line x1="660.7" y1="745.1" x2="857.5" y2="745.1" stroke="#cdcdcd" stroke-width="1"/>
<line x1="660.7" y1="760.5" x2="857.5" y2="760.5" stroke="#cdcdcd" stroke-width="1"/>
<line x1="660.7" y1="805.4" x2="857.5" y2="805.4" stroke="#cdcdcd" stroke-width="1"/>
<line x1="660.7" y1="820.6" x2="857.5" y2="820.6" stroke="#cdcdcd" stroke-width="1"/>
<line x1="660.7" y1="835.6" x2="857.5" y2="835.6" stroke="#cdcdcd" stroke-width="1"/>
<line x1="660.7" y1="850.6" x2="857.5" y2="850.6" stroke="#cdcdcd" stroke-width="1"/>
<line x1="660.7" y1="865.6" x2="857.5" y2="865.6" stroke="#cdcdcd" stroke-width="1"/>
<line x1="660.7" y1="775.2" x2="857.5" y2="775.2" stroke="#222" stroke-width="1.4"/>
<line x1="660.7" y1="789.9" x2="1200" y2="789.9" stroke="#222" stroke-width="1.4"/>
<line x1="660.7" y1="714.5" x2="1200" y2="714.5" stroke="#222" stroke-width="1.4"/>
<line x1="857.6" y1="745" x2="1200" y2="745" stroke="#222" stroke-width="1.3"/>
<line x1="857.6" y1="835.4" x2="1200" y2="835.4" stroke="#222" stroke-width="1.3"/>
<line x1="1069.3" y1="805.5" x2="1200" y2="805.5" stroke="#222" stroke-width="1.2"/>
<line x1="660.8" y1="714" x2="660.8" y2="881.2" stroke="#222" stroke-width="1.4"/>
<line x1="712.4" y1="714" x2="712.4" y2="881.2" stroke="#222" stroke-width="1.4"/>
<line x1="782.1" y1="714" x2="782.1" y2="881.2" stroke="#222" stroke-width="1.4"/>
<line x1="827.4" y1="714" x2="827.4" y2="881.2" stroke="#222" stroke-width="1.4"/>
<line x1="857.6" y1="714" x2="857.6" y2="881.2" stroke="#222" stroke-width="1.4"/>
<line x1="685.1" y1="714" x2="685.1" y2="790" stroke="#222" stroke-width="1.4"/>
<line x1="742.4" y1="714" x2="742.4" y2="790" stroke="#222" stroke-width="1.4"/>
<line x1="1069.3" y1="789.9" x2="1069.3" y2="881.2" stroke="#222" stroke-width="1.3"/>
<line x1="1115.3" y1="789.9" x2="1115.3" y2="835.4" stroke="#222" stroke-width="1.3"/>
<line x1="1160.5" y1="789.9" x2="1160.5" y2="835.4" stroke="#222" stroke-width="1.3"/>
<text x="661.6" y="785.8" font-size="10.3" text-anchor="start" fill="#1a1a1a" stroke="#1a1a1a" stroke-width="0.18">Изм.</text>
<text x="687.4" y="785.8" font-size="10.3" text-anchor="start" fill="#1a1a1a" stroke="#1a1a1a" stroke-width="0.18">Кол.</text>
<text x="717.6" y="785.8" font-size="10.3" text-anchor="start" fill="#1a1a1a" stroke="#1a1a1a" stroke-width="0.18">Лист</text>
<text x="747.5" y="785.8" font-size="10.3" text-anchor="start" fill="#1a1a1a" stroke="#1a1a1a" stroke-width="0.18">№ док.</text>
<text x="794" y="785.8" font-size="10.3" text-anchor="start" fill="#1a1a1a" stroke="#1a1a1a" stroke-width="0.18">Подп.</text>
<text x="830" y="784.4" font-size="10.3" text-anchor="start" fill="#1a1a1a" stroke="#1a1a1a" stroke-width="0.18">Дата</text>
<text x="664.5" y="814.6" font-size="10.5" text-anchor="start" fill="#1a1a1a" stroke="#1a1a1a" stroke-width="0.18">Разраб.</text>
<text x="715.8" y="816" font-size="10.5" text-anchor="start" fill="#1a1a1a" stroke="#1a1a1a" stroke-width="0.18">Решетова</text>
<text x="665.4" y="846.8" font-size="10.5" text-anchor="start" fill="#1a1a1a" stroke="#1a1a1a" stroke-width="0.18">Н. контр.</text>
<text x="715.8" y="846.6" font-size="10.5" text-anchor="start" fill="#1a1a1a" stroke="#1a1a1a" stroke-width="0.18">Двоеглазов</text>
<text x="665.4" y="862.4" font-size="10.5" text-anchor="start" fill="#1a1a1a" stroke="#1a1a1a" stroke-width="0.18">ГИП</text>
<text x="716.8" y="862.4" font-size="10.5" text-anchor="start" fill="#1a1a1a" stroke="#1a1a1a" stroke-width="0.18">Коротаев</text>
<text x="830.1" y="817.5" font-size="10.5" text-anchor="start" fill="#1a1a1a" stroke="#1a1a1a" stroke-width="0.18">04.23</text>
<text x="830.1" y="846.6" font-size="10.5" text-anchor="start" fill="#1a1a1a" stroke="#1a1a1a" stroke-width="0.18">04.23</text>
<text x="830.1" y="862.6" font-size="10.5" text-anchor="start" fill="#1a1a1a" stroke="#1a1a1a" stroke-width="0.18">04.23</text>
<text x="1074.6" y="800.6" font-size="11.3" text-anchor="start" fill="#1a1a1a" textLength="39.6" lengthAdjust="spacingAndGlyphs" stroke="#1a1a1a" stroke-width="0.18">Стадия</text>
<text x="1124.6" y="800.6" font-size="11.3" text-anchor="start" fill="#1a1a1a" stroke="#1a1a1a" stroke-width="0.18">Лист</text>
<text x="1172.3" y="800.6" font-size="11.3" text-anchor="start" fill="#1a1a1a" stroke="#1a1a1a" stroke-width="0.18">Листов</text>
<text x="1091" y="826" font-size="12.3" text-anchor="middle" fill="#1a1a1a" stroke="#1a1a1a" stroke-width="0.18">ЭП</text>
<text x="1139.5" y="826" font-size="12.3" text-anchor="middle" fill="#1a1a1a" stroke="#1a1a1a" stroke-width="0.18">10</text>
<text x="1190.7" y="826" font-size="12.3" text-anchor="middle" fill="#1a1a1a" stroke="#1a1a1a" stroke-width="0.18">15</text>
<text x="948.6" y="857.3" font-size="10.4" text-anchor="start" fill="#1a1a1a" textLength="52.4" lengthAdjust="spacingAndGlyphs" stroke="#1a1a1a" stroke-width="0.18">Фасад А-Д</text>
<text x="948.6" y="868.4" font-size="10.4" text-anchor="start" fill="#1a1a1a" textLength="52.4" lengthAdjust="spacingAndGlyphs" stroke="#1a1a1a" stroke-width="0.18">Фасад Д-А</text>
<text x="1097.3" y="865.6" font-size="14.6" text-anchor="start" fill="#111" textLength="99.2" lengthAdjust="spacingAndGlyphs" stroke="#111" stroke-width="0.18">ООО "Альянс"</text>
<g fill="none" stroke="#2a2a2a" stroke-width="0.85" stroke-linecap="round">
<path d="M786.2,811.4 C789,808 791,804 793.3,801.4 C792,803 790,806 791,808 C792,810 795,809 799.6,805.7 C802,803 804,800 805.6,798.3 C801,804 797,810 794.7,814.1 C791,819 788,826 785.8,828.8 C784,830 783.5,827 785,824 C788,820 791,817 795,813 C798,811 801,809 804,808"/>
<path d="M796,813 C800,810 802,808.5 804,807.9 C800,811 797,816 797.5,818.5 C798.5,820 801,818 803,815 C805,812 806.5,809.5 807.5,808 C810,806 812.5,806.5 812.6,808.5 C812,811 808,815 805.5,817.5 C805,818 804.5,817 805.5,815.5 C808,812 811,809 813.5,808 C815.5,809 815.8,810.5 814.5,812.5 C813,814.5 812,816 811.2,817 C812,815 813.5,813 815.5,811.5 C816.5,811 817.5,812 817.3,812.5 L822.2,812.8"/>
<path d="M782.3,858.5 C785,852 789,846 793,843 C795,841.5 797,839 800.4,835.7"/>
<path d="M782.5,857 C786,852 790,848 794,844 C796,842 797,843 796,846 C795,848 796,850 798,849.5 C800,848.5 803,846.5 805.2,846.4 C805.5,847.5 803,849.5 801,851.5 C800,852.5 801.5,852.5 803,852 C808,849 815,843 819.6,840 C822,838.5 824,836 826,834.4 L826.5,839 L819.5,840"/>
<path d="M785,865 C787,869 792,869 799.3,862 C803,858 806,855 807.9,853.3 C805,852 800,853 795,856 C789,859.5 784,863 785,865"/>
<path d="M789.7,866 C792,863 795,860 797.7,857.1 C798,859 796,861 795,862 M788,868 C793,868 797,865 801,861"/>
<path d="M800.9,867.2 C808,861 816,852 823.9,845.9 M805.7,866.2 C809,861 813,855 817.5,851.7 M807.9,865.1 C813,859 818,854 824.4,850.1 M803,875.8 C806,870 810,862 815,856 M816,850 C819,846.5 823,845 823,846.5 C822,849 818,851 816,850"/>
</g>
</svg></body></html>
